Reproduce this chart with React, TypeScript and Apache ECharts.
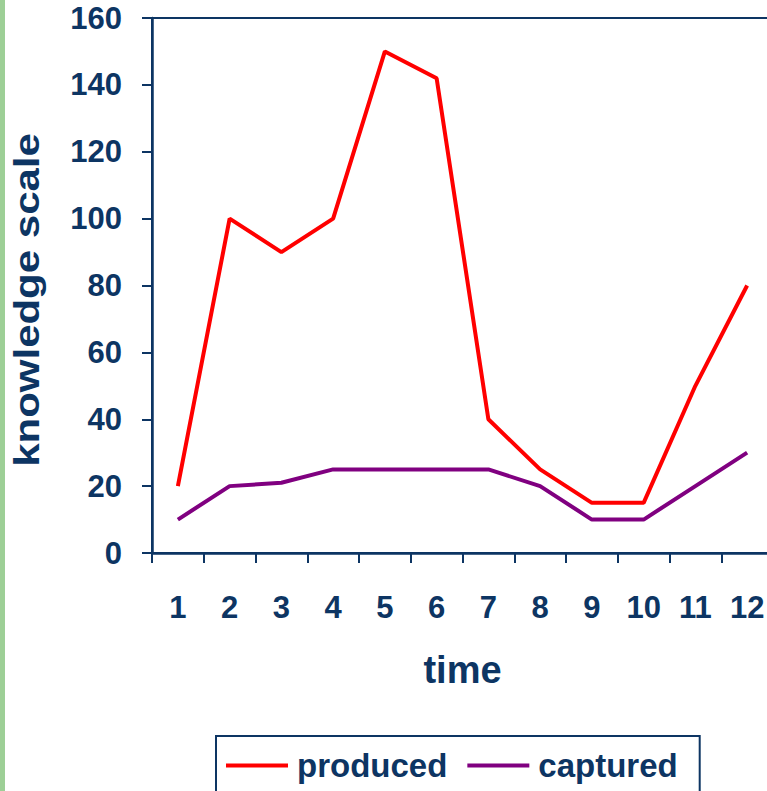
import React, { useEffect, useRef } from "react";
import * as echarts from "echarts";

const categories = ["1", "2", "3", "4", "5", "6", "7", "8", "9", "10", "11", "12"];
const produced = [20, 100, 90, 100, 150, 142, 40, 25, 15, 15, 50, 80];
const captured = [10, 20, 21, 25, 25, 25, 25, 20, 10, 10, 20, 30];

const NAVY = "#0d3563";
const FONT = "Arial, 'Liberation Sans', sans-serif";

export default function App() {
  const ref = useRef<HTMLDivElement>(null);
  useEffect(() => {
    if (!ref.current) return;
    const chart = echarts.init(ref.current, undefined, { renderer: "svg" });
    chart.setOption({
      animation: false,
      backgroundColor: "#ffffff",
      grid: {
        left: 152,
        top: 18,
        width: 621,
        bottom: 238,
        show: true,
        borderColor: NAVY,
        borderWidth: 2,
        containLabel: false,
        outerBoundsMode: "none",
      },
      graphic: [
        {
          type: "rect",
          shape: { x: 0, y: 0, width: 5, height: 791 },
          style: { fill: "#9dcf96" },
          silent: true,
        },
        {
          type: "text",
          x: 27,
          y: 300,
          rotation: Math.PI / 2,
          scaleX: 1.2,
          style: {
            text: "knowledge scale",
            fill: NAVY,
            font: `bold 35px ${FONT}`,
            align: "center",
            verticalAlign: "middle",
          },
        },
      ],
      legend: {
        left: 216,
        top: 736,
        orient: "horizontal",
        borderColor: NAVY,
        borderWidth: 2,
        padding: [13, 22, 30, 10],
        itemGap: 20,
        itemWidth: 62,
        itemHeight: 4,
        icon: "rect",
        textStyle: {
          color: NAVY,
          fontWeight: "bold",
          fontSize: 33,
          fontFamily: FONT,
          padding: [0, 0, 0, 4],
        },
        data: ["produced", "captured"],
      },
      xAxis: {
        type: "category",
        data: categories,
        boundaryGap: true,
        name: "time",
        nameLocation: "middle",
        nameGap: 98,
        nameTextStyle: { color: NAVY, fontWeight: "bold", fontSize: 38, fontFamily: FONT },
        axisLine: { lineStyle: { color: NAVY, width: 2.5 } },
        axisTick: { show: true, length: 10, alignWithLabel: false, lineStyle: { color: NAVY, width: 2 } },
        axisLabel: { color: NAVY, fontWeight: "bold", fontSize: 31, fontFamily: FONT, margin: 39, interval: 0 },
        splitLine: { show: false },
      },
      yAxis: {
        type: "value",
        min: 0,
        max: 160,
        interval: 20,
        axisLine: { show: true, lineStyle: { color: NAVY, width: 2.5 } },
        axisTick: { show: true, length: 10, lineStyle: { color: NAVY, width: 2 } },
        axisLabel: { color: NAVY, fontWeight: "bold", fontSize: 31, fontFamily: FONT, margin: 30 },
        splitLine: { show: false },
      },
      series: [
        {
          name: "produced",
          type: "line",
          data: produced,
          symbol: "none",
          itemStyle: { color: "#ff0000" },
          lineStyle: { color: "#ff0000", width: 4 },
        },
        {
          name: "captured",
          type: "line",
          data: captured,
          symbol: "none",
          itemStyle: { color: "#800080" },
          lineStyle: { color: "#800080", width: 4 },
        },
      ],
    });
    return () => chart.dispose();
  }, []);
  return (
    <div
      ref={ref}
      style={{ position: "fixed", left: 0, top: 0, width: 767, height: 791, overflow: "hidden" }}
    />
  );
}
